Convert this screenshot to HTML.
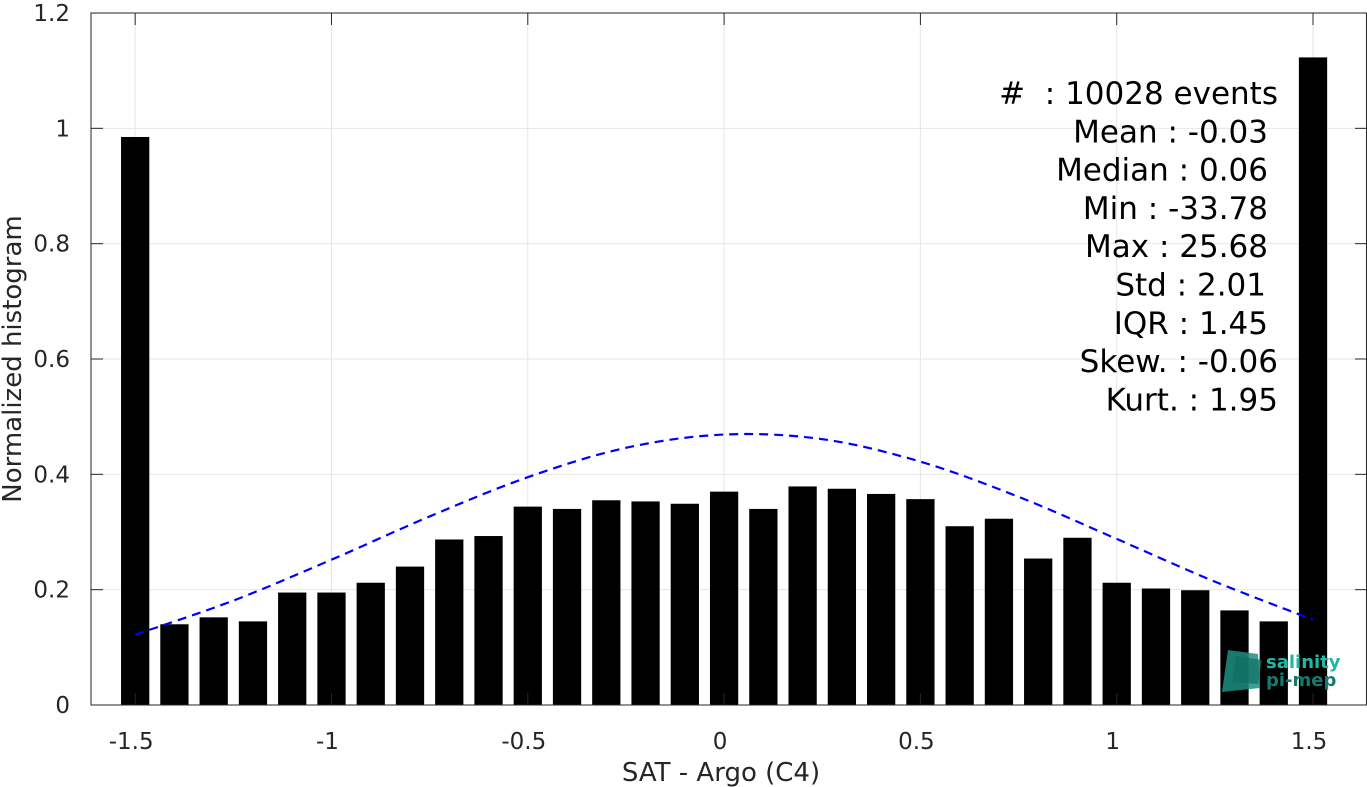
<!DOCTYPE html>
<html><head><meta charset="utf-8"><style>
body{margin:0;background:#fff;}
svg{display:block;font-family:"DejaVu Sans","Liberation Sans",sans-serif;}
text{white-space:pre;}
</style></head><body>
<svg id="chart" width="1367" height="787"></svg>
<script>
const categories=[-1.5,-1.4,-1.3,-1.2,-1.1,-1.0,-0.9,-0.8,-0.7,-0.6,-0.5,-0.4,-0.3,-0.2,-0.1,0,0.1,0.2,0.3,0.4,0.5,0.6,0.7,0.8,0.9,1.0,1.1,1.2,1.3,1.4,1.5];
const barValues=[0.985,0.14,0.152,0.145,0.195,0.195,0.212,0.24,0.287,0.293,0.344,0.340,0.355,0.353,0.349,0.370,0.340,0.379,0.375,0.366,0.357,0.310,0.323,0.254,0.290,0.212,0.202,0.199,0.164,0.145,1.123];
const fitX=[-1.5,-1.25,-1,-0.75,-0.5,-0.25,0,0.25,0.5,0.75,1,1.25,1.5];
const fitY=[0.122,0.181,0.252,0.327,0.395,0.446,0.469,0.461,0.422,0.361,0.288,0.214,0.148];
const xTicks=[-1.5,-1,-0.5,0,0.5,1,1.5];
const xTickLabels=["-1.5","-1","-0.5","0","0.5","1","1.5"];
const yTicks=[0,0.2,0.4,0.6,0.8,1,1.2];
const yTickLabels=["0","0.2","0.4","0.6","0.8","1","1.2"];
const statsLines=["#  : 10028 events","Mean : -0.03","Median : 0.06","Min : -33.78","Max : 25.68","Std : 2.01","IQR : 1.45","Skew. : -0.06","Kurt. : 1.95"];

const NS="http://www.w3.org/2000/svg";
const svg=document.getElementById('chart');
const L=91,R=1367,T=13,B=705;
const xMin=-1.6125,xMax=1.6375,yMin=0,yMax=1.2;
const xs=v=>L+(v-xMin)/(xMax-xMin)*(R-L);
const ys=v=>B-(v-yMin)/(yMax-yMin)*(B-T);
function mk(tag,attrs,parent){const e=document.createElementNS(NS,tag);for(const k in attrs)e.setAttribute(k,attrs[k]);(parent||svg).appendChild(e);return e;}

const grid=mk('g',{});


xTicks.forEach(v=>mk('line',{x1:xs(v),x2:xs(v),y1:T,y2:B,stroke:'#e6e6e6','stroke-width':1},grid));
yTicks.forEach(v=>mk('line',{x1:L,x2:R,y1:ys(v),y2:ys(v),stroke:'#e6e6e6','stroke-width':1},grid));

const bars=mk('g',{});


const bw=0.072*(R-L)/(xMax-xMin);
categories.forEach((c,i)=>{
  const r=mk('rect',{x:xs(c)-bw/2,y:ys(barValues[i]),width:bw,height:ys(0)-ys(barValues[i]),fill:'#000'},bars);
  
  
});

const pts=fitX.map((x,i)=>[xs(x),ys(fitY[i])]);
let d=`M${pts[0][0]},${pts[0][1]}`;
for(let i=0;i<pts.length-1;i++){
  const p0=pts[Math.max(0,i-1)],p1=pts[i],p2=pts[i+1],p3=pts[Math.min(pts.length-1,i+2)];
  d+=` C${p1[0]+(p2[0]-p0[0])/6},${p1[1]+(p2[1]-p0[1])/6} ${p2[0]-(p3[0]-p1[0])/6},${p2[1]-(p3[1]-p1[1])/6} ${p2[0]},${p2[1]}`;
}
const fit=mk('path',{d:d,fill:'none',stroke:'#0000ff','stroke-width':2.2,'stroke-dasharray':'9,6'});



const frame=mk('rect',{x:L,y:T,width:R-L-0.5,height:B-T,fill:'none',stroke:'#262626','stroke-width':1});



const xa=mk('g',{});


xTicks.forEach((v,i)=>{
  mk('line',{x1:xs(v),x2:xs(v),y1:B,y2:B-12,stroke:'#262626'},xa);
  mk('line',{x1:xs(v),x2:xs(v),y1:T,y2:T+12,stroke:'#262626'},xa);
  const t=mk('text',{x:xs(v)-4,y:B+44,'text-anchor':'middle','font-size':23,fill:'#262626'},xa);
  t.textContent=xTickLabels[i];
  
  
});
const ya=mk('g',{});


yTicks.forEach((v,i)=>{
  mk('line',{x1:L,x2:L+12,y1:ys(v),y2:ys(v),stroke:'#262626'},ya);
  mk('line',{x1:R-12,x2:R,y1:ys(v),y2:ys(v),stroke:'#262626'},ya);
  const t=mk('text',{x:L-21,y:ys(v)+8,'text-anchor':'end','font-size':23,fill:'#262626'},ya);
  t.textContent=yTickLabels[i];
  
  
});
const xt=mk('text',{x:721,y:781,'text-anchor':'middle','font-size':26,fill:'#262626'});
xt.textContent='SAT - Argo (C4)';


const yt=mk('text',{x:0,y:0,transform:'translate(21,359) rotate(-90)','text-anchor':'middle','font-size':26,fill:'#262626'});
yt.textContent='Normalized histogram';



const stats=mk('g',{});


const ends=[1278,1268,1268,1268,1268,1266,1268,1278,1278];
statsLines.forEach((s,i)=>{
  const t=mk('text',{x:ends[i],y:104+i*38.3,'text-anchor':'end','font-size':31,fill:'#000'},stats);
  t.textContent=s;
  
  
});

const logo=mk('g',{});


mk('polygon',{points:'1228,650 1258,654 1260,688 1222,692',fill:'#1a8f80',opacity:0.85},logo);
mk('polygon',{points:'1236,656 1262,660 1258,684 1232,682',fill:'#0f6e63',opacity:0.7},logo);
const l1=mk('text',{x:1266,y:668,'font-size':18,'font-weight':'bold',fill:'#20b8a4'},logo);
l1.textContent='salinity';
const l2=mk('text',{x:1266,y:686,'font-size':18,'font-weight':'bold',fill:'#167a6e'},logo);
l2.textContent='pi-mep';
</script>
</body></html>
